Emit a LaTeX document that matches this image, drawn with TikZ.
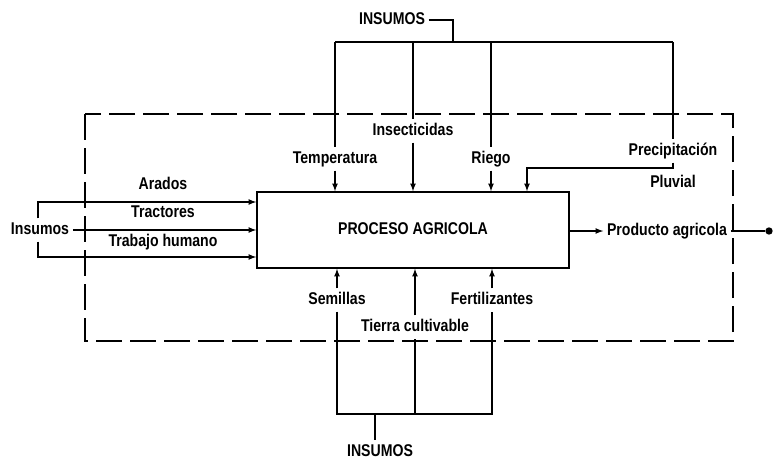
\documentclass[tikz,border=0pt]{standalone}
\usepackage{fontspec}
\setmainfont{Liberation Sans}[FakeStretch=0.83]
\begin{document}
\begin{tikzpicture}[x=1pt, y=-1pt, line width=1.6pt,
	every node/.style={font=\bfseries\fontsize{17}{19}\selectfont, inner sep=3pt, text height=12.2pt, text depth=3.6pt}]
	\useasboundingbox (0,0) rectangle (774,460);
	\draw[line width=2pt, dash pattern=on 26pt off 8pt] (85,114) rectangle (733,341);
	\node[draw, minimum width=312pt, minimum height=76pt] (proc) at (413,230) {PROCESO AGRICOLA};
	
	\node (insT) at (392,20) {INSUMOS};
	\coordinate (busL) at (335,42);
	\coordinate (busR) at (673,42);
	\coordinate (busJ) at (453,42);
	\draw (busL) -- (busR);
	\draw (insT.east) -| (busJ);
	\node (temp) at (335,159) {Temperatura};
	\node (insec) at (413,131) {Insecticidas};
	\node (riego) at (491,159) {Riego};
	\node (precip) at (673,151) {Precipitación};
	\node (pluv) at (673,183) {Pluvial};
	\coordinate (pcorner) at (527,168);
	\draw (busL) -- (temp.north);
	\draw[->, >=latex] (temp.south) -- (temp.south |- proc.north);
	\draw (insec.north |- busL) -- (insec.north);
	\draw[->, >=latex] (insec.south) -- (insec.south |- proc.north);
	\draw (riego.north |- busL) -- (riego.north);
	\draw[->, >=latex] (riego.south) -- (riego.south |- proc.north);
	\draw (busR) -- (precip.north);
	\draw[->, >=latex] (precip.south) |- (pcorner) -- (pcorner |- proc.north);
	
	\node (semi) at (337,300) {Semillas};
	\node (tierra) at (415,327) {Tierra cultivable};
	\node (fert) at (492,300) {Fertilizantes};
	\node (insB) at (380,452) {INSUMOS};
	\coordinate (busBL) at (337,414);
	\coordinate (busBR) at (492,414);
	\coordinate (stubB) at (375,414);
	\draw (semi.south) -- (busBL) -- (busBR) -- (fert.south);
	\draw (tierra.south |- busBL) -- (tierra.south);
	\draw (stubB) -- (stubB |- insB.north);
	\draw[->, >=latex] (semi.north) -- (semi.north |- proc.south);
	\draw[->, >=latex] (tierra.north) -- (tierra.north |- proc.south);
	\draw[->, >=latex] (fert.north) -- (fert.north |- proc.south);
	
	\node (insL) at (40,230) {Insumos};
	\node (arados) at (163,185) {Arados};
	\node (tract) at (163,213) {Tractores};
	\node (trab) at (163,242) {Trabajo humano};
	\coordinate (brT) at (38,202);
	\coordinate (brB) at (38,257);
	\draw[->, >=latex] (brT |- insL.north) -- (brT) -- (brT -| proc.west);
	\draw[->, >=latex] (insL.east) -- (insL.east -| proc.west);
	\draw[->, >=latex] (brB |- insL.south) -- (brB) -- (brB -| proc.west);
	
	\node (prod) at (667,231) {Producto agricola};
	\node[circle, fill, inner sep=2.6pt, text height=, text depth=] (dot) at (769,231) {};
	\draw[->, >=latex] (proc.east |- prod.west) -- (prod.west);
	\draw (prod.east) -- (dot);
\end{tikzpicture}
\end{document}
